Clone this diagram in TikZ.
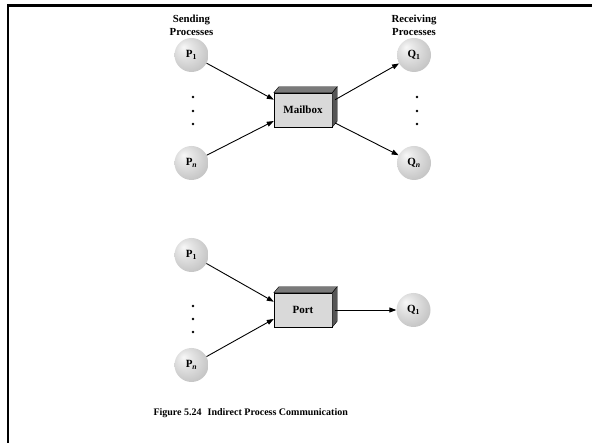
\documentclass[tikz,border=0pt]{standalone}
\usepackage{fontspec}
\setmainfont{Liberation Serif}
\usepackage{xcolor}
\usepackage{tikz}
\usetikzlibrary{arrows.meta, positioning, calc}
\definecolor{boxfront}{HTML}{D9D9D9}
\definecolor{boxtop}{HTML}{7A7A7A}
\definecolor{boxside}{HTML}{555555}
\pgfdeclareradialshading{procball}{\pgfpoint{-12bp}{12bp}}{%
  color(0bp)=(gray!6); color(10bp)=(gray!20); color(30bp)=(gray!45); color(50bp)=(gray!65)}
\newcommand{\boxdepth}[1]{%
  \draw[fill=boxtop] (#1.north west) -- ++(5,-6) -- ($(#1.north east)+(5,-6)$) -- (#1.north east) -- cycle;
  \draw[fill=boxside] (#1.north east) -- ++(5,-6) -- ($(#1.south east)+(5,-6)$) -- (#1.south east) -- cycle;}

\begin{document}
\begin{tikzpicture}[
  x=1pt, y=-1pt,
  font=\bfseries\fontsize{11}{12}\selectfont,
  proc/.style={circle, minimum size=34pt, inner sep=0pt, shading=procball},
  mbox/.style={draw, fill=boxfront, minimum width=58pt, minimum height=34pt, inner sep=0pt},
  flow/.style={-{Triangle[length=7pt,width=5pt]}, line width=0.9pt},
  heading/.style={align=center, inner sep=0pt, font=\bfseries\fontsize{10.8}{13}\selectfont}
]
\useasboundingbox (0,0) rectangle (592,443);

% frame
\draw[line width=2.7pt] (8,443) -- (8,5.3) -- (592,5.3);

% mailbox
\node[proc] (P1) at (191.5,55) {P\textsubscript{1}};
\node[proc] (Pn) at (191.5,163) {P\textsubscript{\itshape n}};
\node[mbox] (mail) at (303,110) {Mailbox};
\boxdepth{mail}
\node[proc] (Q1) at (414,55) {Q\textsubscript{1}};
\node[proc] (Qn) at (414,163) {Q\textsubscript{\itshape n}};

\node[heading, above=2pt of P1] (send) {Sending\\Processes};
\node[heading, above=2pt of Q1] (recv) {Receiving\\Processes};

\foreach \y in {97,111,124} {
  \fill (193,\y) circle (1.3pt);
  \fill (417,\y) circle (1.3pt);
}

\draw[flow] (P1) -- ($(mail.north west)!0.2!(mail.south west)$);
\draw[flow] (Pn) -- ($(mail.north west)!0.82!(mail.south west)$);
\draw[flow] ($(mail.north east)!0.2!(mail.south east)+(3,0)$) -- (Q1);
\draw[flow] ($(mail.north east)!0.88!(mail.south east)+(3,0)$) -- (Qn);

% port
\node[proc] (P1b) at (191.5,255) {P\textsubscript{1}};
\node[proc] (Pnb) at (191.5,365) {P\textsubscript{\itshape n}};
\node[mbox] (port) at (303,310) {Port};
\boxdepth{port}
\node[proc] (Q1b) at (413.5,310) {Q\textsubscript{1}};

\foreach \y in {306,319,332}
  \fill (193,\y) circle (1.3pt);

\draw[flow] (P1b) -- ($(port.north west)!0.26!(port.south west)$);
\draw[flow] (Pnb) -- ($(port.north west)!0.76!(port.south west)$);
\draw[flow] ($(port.east)+(3,0)$) -- (Q1b);

\node[anchor=west, font=\bfseries\fontsize{10}{12}\selectfont] (caption) at (150,413)
  {Figure 5.24\hspace{0.6em}Indirect Process Communication};

\end{tikzpicture}
\end{document}
